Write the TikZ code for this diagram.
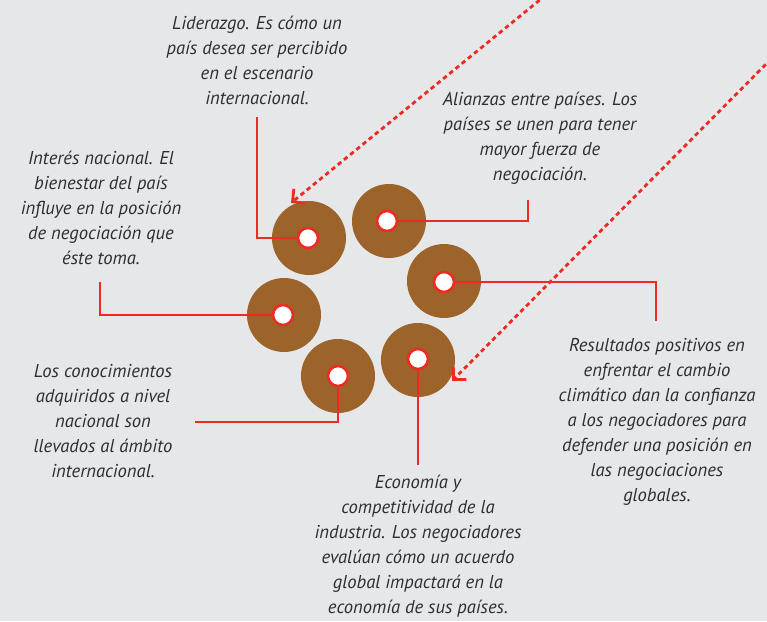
\documentclass[tikz,border=0pt]{standalone}
\usepackage{fontspec}
\setmainfont{PT Sans}
\usetikzlibrary{arrows.meta}
\definecolor{bgc}{HTML}{E6E7E9}
\definecolor{brownc}{HTML}{9C642A}
\definecolor{redc}{HTML}{EE2A24}
\definecolor{txtc}{HTML}{2E2E2E}
\tikzset{
  disc/.style={circle, fill=brownc, minimum size=74pt, inner sep=0pt},
  dot/.style={circle, fill=white, draw=redc, line width=2.6pt, minimum size=20pt, inner sep=0pt},
  lead/.style={draw=redc, line width=2.6pt},
  darrow/.style={draw=redc, line width=2.8pt, dash pattern=on 4.5pt off 3.5pt, -{Straight Barb[angle=90:13pt]}},
  label/.style={align=center, inner sep=0pt, text=txtc, font=\itshape\fontsize{18.6pt}{25pt}\selectfont}
}
\begin{document}
\begin{tikzpicture}[x=1pt, y=-1pt]
\fill[bgc] (0,0) rectangle (767,621);
\path[use as bounding box] (0,0) rectangle (767,621);
\clip (0,0) rectangle (767,621);
% discs
\node[disc] (c1) at (309,238) {};
\node[disc] (c2) at (389,221) {};
\node[disc] (c3) at (444,281) {};
\node[disc] (c4) at (284,315) {};
\node[disc] (c5) at (338,376) {};
\node[disc] (c6) at (418,360) {};
% leader end points
\coordinate (l1) at (257,117);
\coordinate (l2) at (528,200);
\coordinate (l3) at (656,321);
\coordinate (l4) at (100,282);
\coordinate (l5) at (195,422);
\coordinate (l6) at (418,465);
% dot positions
\coordinate (p1) at (308,238);
\coordinate (p2) at (387,221);
\coordinate (p3) at (444,282);
\coordinate (p4) at (283,315);
\coordinate (p5) at (338,376);
\coordinate (p6) at (418,359);
\draw[lead] (p1) -| (l1);
\draw[lead] (p2) -| (l2);
\draw[lead] (p3) -| (l3);
\draw[lead] (p4) -| (l4);
\draw[lead] (p5) |- (l5);
\draw[lead] (p6) -- (l6);
\node[dot] (d1) at (p1) {};
\node[dot] (d2) at (p2) {};
\node[dot] (d3) at (p3) {};
\node[dot] (d4) at (p4) {};
\node[dot] (d5) at (p5) {};
\node[dot] (d6) at (p6) {};
% dashed arrows
\coordinate (s1) at (552,-10);
\coordinate (e1) at (291,203);
\coordinate (s2) at (777,53);
\coordinate (e2) at (452,381);
\draw[darrow] (s1) -- (e1);
\draw[darrow] (s2) -- (e2);
% texts
\node[label] (t1) at (257,60) {Liderazgo. Es cómo un\\país desea ser percibido\\en el escenario\\internacional.};
\node[label] (t2) at (540,138) {Alianzas entre países. Los\\países se unen para tener\\mayor fuerza de\\negociación.};
\node[label] (t4) at (101,208) {Interés nacional. El\\bienestar del país\\influye en la posición\\de negociación que\\éste toma.};
\node[label] (t3) at (657,422) {Resultados positivos en\\enfrentar el cambio\\climático dan la confianza\\a los negociadores para\\defender una posición en\\las negociaciones\\globales.};
\node[label] (t5) at (103,421) {Los conocimientos\\adquiridos a nivel\\nacional son\\llevados al ámbito\\internacional.};
\node[label] (t6) at (418,546) {Economía y\\competitividad de la\\industria. Los negociadores\\evalúan cómo un acuerdo\\global impactará en la\\economía de sus países.};
\end{tikzpicture}
\end{document}
